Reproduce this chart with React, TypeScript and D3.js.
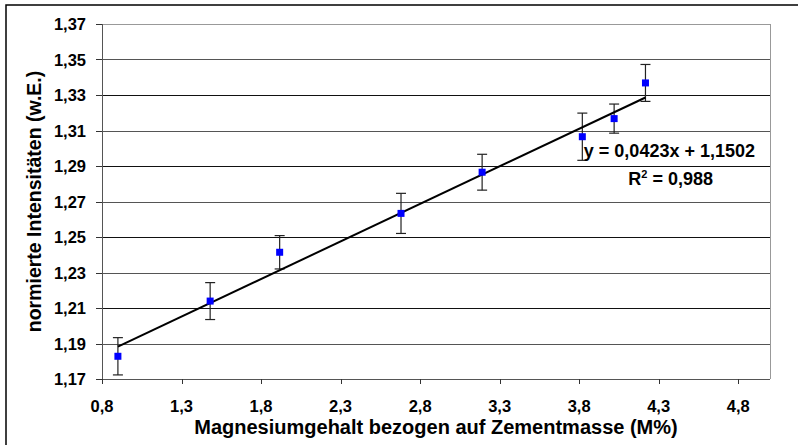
import React from "react";
import * as d3 from "d3";

const xValues = [0.9, 1.48, 1.917, 2.68, 3.19, 3.82, 4.02, 4.217];
const yValues = [1.1828, 1.2139, 1.2414, 1.2633, 1.2865, 1.3065, 1.3167, 1.3368];
const yErrors = [0.0105, 0.0104, 0.0094, 0.0113, 0.0101, 0.0133, 0.0082, 0.0104];
const xTicks = [0.8, 1.3, 1.8, 2.3, 2.8, 3.3, 3.8, 4.3, 4.8];
const yTicks = [1.17, 1.19, 1.21, 1.23, 1.25, 1.27, 1.29, 1.31, 1.33, 1.35, 1.37];
const slope = 0.0423;
const intercept = 1.1502;

const W = 798;
const H = 445;
const L = 102, R = 770, T = 24, B = 379;

export default function App() {
  const x = d3.scaleLinear().domain([0.8, 5.0]).range([L, R]);
  const y = d3.scaleLinear().domain([1.17, 1.37]).range([B, T]);
  const fmt = (v: number, d: number) => v.toFixed(d).replace(".", ",");
  const font = "'Liberation Sans', Arial, sans-serif";
  const xMin = d3.min(xValues) as number;
  const xMax = d3.max(xValues) as number;
  const line = d3.line<number>().x((v) => x(v)).y((v) => y(slope * v + intercept));

  return (
    <svg width={W} height={H} style={{ position: "absolute", left: 0, top: 0 }} fontFamily={font}>
      <rect x={0} y={0} width={W} height={H} fill="#fff" />
      <rect x={6} y={5} width={W + 20} height={H + 20} fill="#fff" stroke="#000" strokeWidth={1.5} />
      {/* gridlines */}
      {yTicks.slice(1, -1).map((t, i) => (
        <line key={"g" + t} x1={L} x2={R} y1={Math.round(y(t)) + 0.5} y2={Math.round(y(t)) + 0.5}
          stroke={i % 2 === 0 ? "#555" : "#111"} strokeWidth={1} />
      ))}
      {/* plot border */}
      <line x1={L} x2={R} y1={T + 0.5} y2={T + 0.5} stroke="#999" strokeWidth={1} />
      <line x1={R + 0.5} x2={R + 0.5} y1={T} y2={B} stroke="#999" strokeWidth={1} />
      {/* axes */}
      <line x1={L + 0.5} x2={L + 0.5} y1={T} y2={B} stroke="#555" strokeWidth={1} />
      <line x1={L} x2={R} y1={B + 0.5} y2={B + 0.5} stroke="#555" strokeWidth={1} />
      {yTicks.map((t) => (
        <g key={"y" + t}>
          <line x1={L - 6} x2={L} y1={Math.round(y(t)) + 0.5} y2={Math.round(y(t)) + 0.5} stroke="#333" />
          <text x={L - 16} y={y(t) + 6} textAnchor="end" fontSize={16.5} fontWeight="bold" fill="#000">
            {fmt(t, 2)}
          </text>
        </g>
      ))}
      {xTicks.map((t) => (
        <g key={"x" + t}>
          <line x1={Math.round(x(t)) + 0.5} x2={Math.round(x(t)) + 0.5} y1={B} y2={B + 5} stroke="#333" />
          <text x={x(t)} y={412} textAnchor="middle" fontSize={16.5} fontWeight="bold" fill="#000">
            {fmt(t, 1)}
          </text>
        </g>
      ))}
      {/* axis titles */}
      <text x={(L + R) / 2} y={434} textAnchor="middle" fontSize={20} fontWeight="bold" fill="#000">
        Magnesiumgehalt bezogen auf Zementmasse (M%)
      </text>
      <text transform={`translate(41,${(T + B) / 2}) rotate(-90)`} textAnchor="middle" fontSize={19.5}
        fontWeight="bold" fill="#000">
        normierte Intensitäten (w.E.)
      </text>
      {/* error bars */}
      {xValues.map((xv, i) => {
        const cx = x(xv);
        const y1 = y(yValues[i] + yErrors[i]);
        const y2 = y(yValues[i] - yErrors[i]);
        return (
          <g key={"e" + i} stroke="#222" strokeWidth={1.2}>
            <line x1={cx} x2={cx} y1={y1} y2={y2} />
            <line x1={cx - 5} x2={cx + 5} y1={y1} y2={y1} />
            <line x1={cx - 5} x2={cx + 5} y1={y2} y2={y2} />
          </g>
        );
      })}
      {/* trendline */}
      <path d={line([xMin, xMax]) || ""} stroke="#000" strokeWidth={2} fill="none" />
      {/* markers */}
      {xValues.map((xv, i) => (
        <rect key={"m" + i} x={x(xv) - 3.5} y={y(yValues[i]) - 3.5} width={7} height={7} fill="#0000ff" />
      ))}
      {/* equation */}
      <text x={755} y={157} textAnchor="end" fontSize={18} fontWeight="bold" fill="#000">
        y = 0,0423x + 1,1502
      </text>
      <text x={713} y={185} textAnchor="end" fontSize={18} fontWeight="bold" fill="#000">
        R<tspan dy={-7} fontSize={11}>2</tspan><tspan dy={7}> = 0,988</tspan>
      </text>
    </svg>
  );
}
